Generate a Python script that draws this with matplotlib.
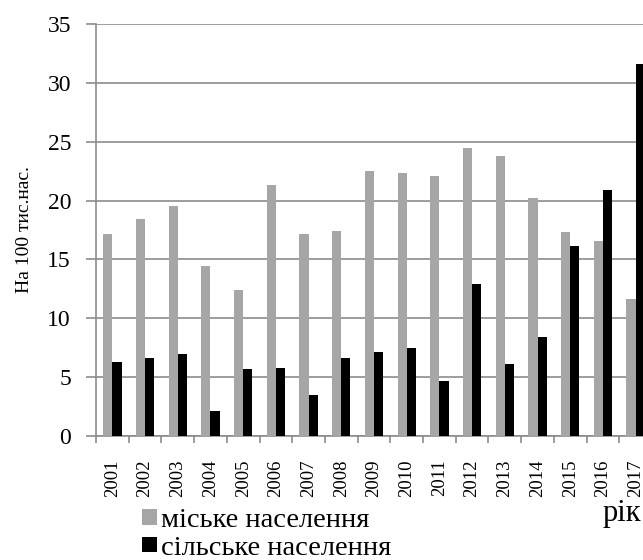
import matplotlib
matplotlib.use("Agg")

import matplotlib.pyplot as plt
import numpy as np
from matplotlib.patches import Patch

plt.rcParams["font.family"] = ["Liberation Serif", "DejaVu Serif"]

years = [str(y) for y in range(2001, 2018)]
urban = [17.2, 18.4, 19.5, 14.4, 12.4, 21.3, 17.2, 17.4, 22.5, 22.3,
         22.1, 24.5, 23.8, 20.2, 17.3, 16.6, 11.6]
rural = [6.3, 6.6, 7.0, 2.1, 5.7, 5.8, 3.5, 6.6, 7.1, 7.5,
         4.7, 12.9, 6.1, 8.4, 16.1, 20.9, 31.6]

GRID = "#8c8c8c"
GREY = "#a6a6a6"

fig = plt.figure(figsize=(6.43, 5.6), dpi=100)
# axes run a little past the right edge of the canvas
ax = fig.add_axes([96 / 643, 1 - 436 / 560, 556 / 643, 412 / 560])

x = np.arange(len(years))
w = 0.28
ax.bar(x - w / 2, urban, w, color=GREY, zorder=3)
ax.bar(x + w / 2, rural, w, color="black", zorder=3)

ax.set_xlim(-0.5, len(years) - 0.5)
ax.set_ylim(0, 35)
ax.set_yticks(range(0, 36, 5))
ax.yaxis.grid(True, color=GRID, linewidth=1.2, zorder=0)
ax.set_axisbelow(True)

# category boundaries carry the ticks, labels sit in the middle
ax.set_xticks(np.arange(-0.5, len(years), 1.0))
ax.set_xticklabels([])
ax.set_xticks(x, minor=True)
ax.set_xticklabels(years, minor=True, rotation=90, fontsize=13.5)
ax.tick_params(axis="x", which="minor", length=0, pad=17)
ax.tick_params(axis="x", which="major", length=5, color=GRID, width=1.2)
ax.tick_params(axis="y", length=7, color=GRID, width=1.2, pad=11, labelsize=17)

for s in ("top", "right"):
    ax.spines[s].set_visible(False)
for s in ("left", "bottom"):
    ax.spines[s].set_color(GRID)
    ax.spines[s].set_linewidth(1.2)

ax.set_ylabel("На 100 тис.нас.", fontsize=14, labelpad=10)

fig.text(603 / 643, 1 - 521 / 560, "рік", fontsize=22, ha="left", va="baseline")

handles = [Patch(facecolor=GREY, edgecolor="none"),
           Patch(facecolor="black", edgecolor="none")]
fig.legend(handles, ["міське населення", "сільське населення"],
           loc="upper left", bbox_to_anchor=(142 / 643, 1 - 508 / 560),
           frameon=False, fontsize=20.5, handlelength=0.52, handleheight=0.45,
           handletextpad=0.15, labelspacing=0.1, borderpad=0, borderaxespad=0)

fig.savefig("out.png", dpi=100)
